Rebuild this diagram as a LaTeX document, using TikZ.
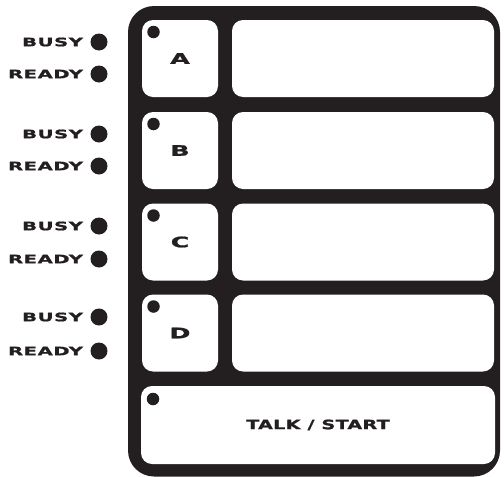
\documentclass[tikz,border=0pt]{standalone}
\usepackage{fontspec}
\newfontfamily\lampfont{DejaVu Sans}[FakeStretch=1.7,FakeBold=1.2,LetterSpace=4]
\newfontfamily\keyfont{DejaVu Sans}[FakeStretch=1.75,FakeBold=1.3]
\newfontfamily\talkfont{DejaVu Sans}[FakeStretch=1.5,FakeBold=1.2,LetterSpace=2]
\usepackage{tikz}
\usetikzlibrary{positioning}
\definecolor{clInk}{HTML}{231F20}
\tikzset{
  keybox/.style={rectangle, rounded corners=11pt, fill=white, inner sep=0pt, outer sep=0pt,
                 minimum width=76pt, minimum height=77pt, text=clInk, font=\keyfont\bfseries\fontsize{14.5}{15}\selectfont},
  panel/.style={keybox, minimum width=262pt},
  talkbox/.style={keybox, minimum width=354pt, minimum height=78pt, font=\talkfont\bfseries\fontsize{12.8}{14}\selectfont},
  pip/.style={circle, fill=clInk, inner sep=0pt, outer sep=0pt, minimum size=12.5pt},
  lamp/.style={circle, fill=clInk, inner sep=0pt, outer sep=0pt, minimum size=17pt},
  lamplabel/.style={inner sep=0pt, outer sep=0pt, text=clInk, font=\lampfont\bfseries\fontsize{11.6}{12}\selectfont},
}
\begin{document}
\begin{tikzpicture}[x=1pt, y=-1pt, node distance=14pt]
  \useasboundingbox (0,0) rectangle (504,477);
  % housing
  \fill[clInk, rounded corners=26pt] (128,6) rectangle (500,476.5);

  % keys
  \node[keybox] (keyA) at (180,58.5) {A};
  \node[panel, right=of keyA] (panelA) {};
  \node[keybox] (keyB) at (180,150.5) {B};
  \node[panel, right=of keyB] (panelB) {};
  \node[keybox] (keyC) at (180,242) {C};
  \node[panel, right=of keyC] (panelC) {};
  \node[keybox] (keyD) at (180,333) {D};
  \node[panel, right=of keyD] (panelD) {};
  \node[talkbox] (talk) at (318,425) {TALK / START};

  \node[pip] (pipA) at ([shift={(11.5,12)}]keyA.north west) {};
  \node[pip] (pipB) at ([shift={(11.5,12)}]keyB.north west) {};
  \node[pip] (pipC) at ([shift={(11.5,12)}]keyC.north west) {};
  \node[pip] (pipD) at ([shift={(11.5,12)}]keyD.north west) {};
  \node[pip] (pipTalk) at ([shift={(12,13)}]talk.north west) {};

  % status lamps
  \node[lamp] (busyA) at (99,42) {};
  \node[lamp] (readyA) at (99,74) {};
  \node[lamp] (busyB) at (99,134) {};
  \node[lamp] (readyB) at (99,166) {};
  \node[lamp] (busyC) at (99,226) {};
  \node[lamp] (readyC) at (99,259) {};
  \node[lamp] (busyD) at (99,317) {};
  \node[lamp] (readyD) at (99,351) {};
  \node[lamplabel, left=7.5pt of busyA] (busyAtext) {BUSY};
  \node[lamplabel, left=7.5pt of readyA] (readyAtext) {READY};
  \node[lamplabel, left=7.5pt of busyB] (busyBtext) {BUSY};
  \node[lamplabel, left=7.5pt of readyB] (readyBtext) {READY};
  \node[lamplabel, left=7.5pt of busyC] (busyCtext) {BUSY};
  \node[lamplabel, left=7.5pt of readyC] (readyCtext) {READY};
  \node[lamplabel, left=7.5pt of busyD] (busyDtext) {BUSY};
  \node[lamplabel, left=7.5pt of readyD] (readyDtext) {READY};
\end{tikzpicture}
\end{document}
